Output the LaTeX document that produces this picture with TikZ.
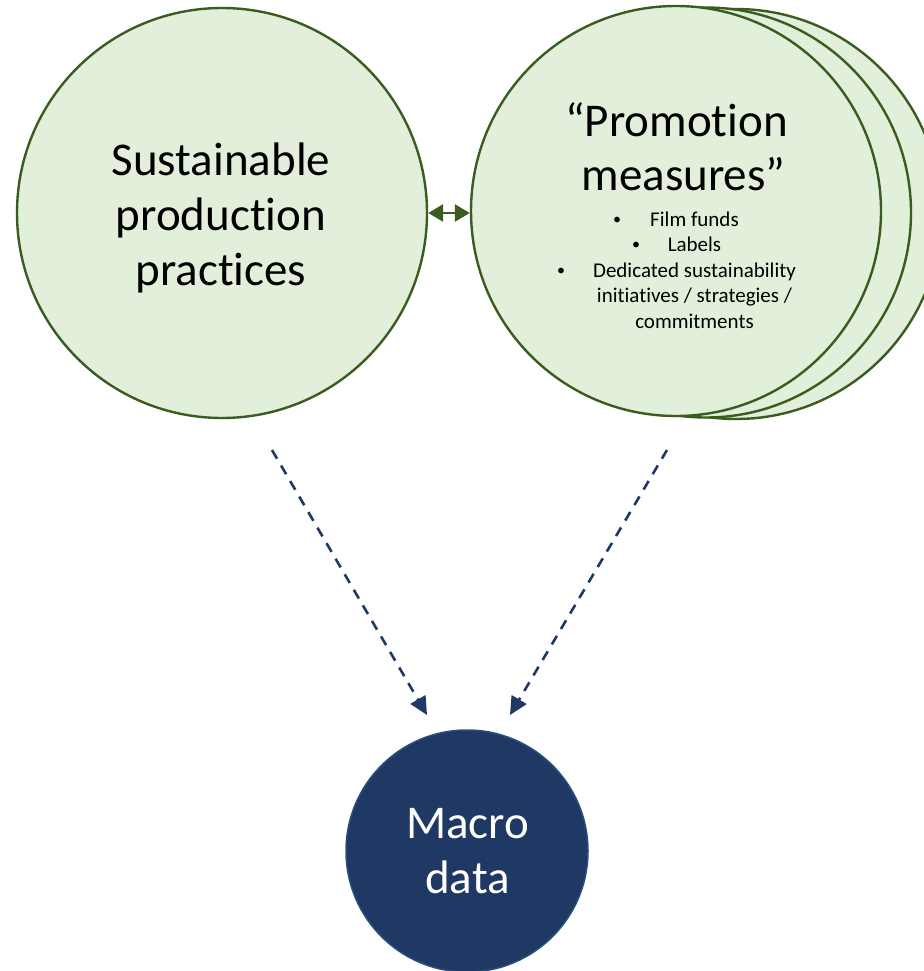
\documentclass[tikz,border=0pt]{standalone}
\usepackage{fontspec}
\setmainfont{Carlito}[Ligatures=NoCommon]
\usetikzlibrary{arrows.meta}
\definecolor{gfill}{HTML}{E2EFDA}
\definecolor{gline}{HTML}{3A5C1F}
\definecolor{navy}{HTML}{203864}
\definecolor{navyline}{HTML}{2B4E7C}
\begin{document}
\begin{tikzpicture}[x=1pt,y=-1pt,
  gcirc/.style={circle,draw=gline,fill=gfill,line width=2.4pt,minimum size=410pt,inner sep=0pt},
  mcirc/.style={circle,draw=navyline,fill=navy,line width=1.5pt,minimum size=242pt,inner sep=0pt},
  big/.style={anchor=base,inner sep=0pt,font=\fontsize{47}{54}\selectfont},
  small/.style={anchor=base,inner sep=0pt,font=\fontsize{21}{25}\selectfont},
  bul/.style={anchor=base,inner sep=0pt,font=\fontsize{16}{20}\selectfont},
  darr/.style={draw=navy,line width=2.6pt,dash pattern=on 10pt off 8pt,-{Triangle[length=18pt,width=17pt]}},
  garr/.style={draw=gline,line width=2.8pt,{Triangle[length=15pt,width=17pt]}-{Triangle[length=15pt,width=17pt]}}
]
\useasboundingbox (0,0) rectangle (923,971);
% stacked circles
\node[gcirc] (P3) at (736,214) {};
\node[gcirc] (P2) at (706,212.5) {};
\node[gcirc] (P1) at (676,211) {};
\node[gcirc] (S) at (222,213) {};
\node[mcirc] (M) at (467,851) {};
% texts
\node[big] (s1) at (221,175) {Sustainable};
\node[big] (s2) at (221,230) {production};
\node[big] (s3) at (221,285) {practices};
\node[big] (p1) at (676.5,136.5) {“Promotion};
\node[big] (p2) at (683.5,190) {measures”};
\node[bul] (b1) at (617,224) {•};
\node[small] (l1) at (694.5,226) {Film funds};
\node[bul] (b2) at (636,249.5) {•};
\node[small] (l2) at (694.5,251.5) {Labels};
\node[bul] (b3) at (561,275) {•};
\node[small] (l3) at (694.5,277) {Dedicated sustainability};
\node[small] (l4) at (694.5,302.5) {initiatives / strategies /};
\node[small] (l5) at (694.5,328) {commitments};
\node[big,text=white] (m1) at (467.5,838) {Macro};
\node[big,text=white] (m2) at (467.5,893) {data};
% connectors
\draw[garr] (S.east) -- (S.east -| P1.west);
\coordinate (a1) at (272,450);
\coordinate (a2) at (427,715);
\coordinate (c1) at (667,450);
\coordinate (c2) at (510,715);
\draw[darr] (a1) -- (a2);
\draw[darr] (c1) -- (c2);
\end{tikzpicture}
\end{document}
